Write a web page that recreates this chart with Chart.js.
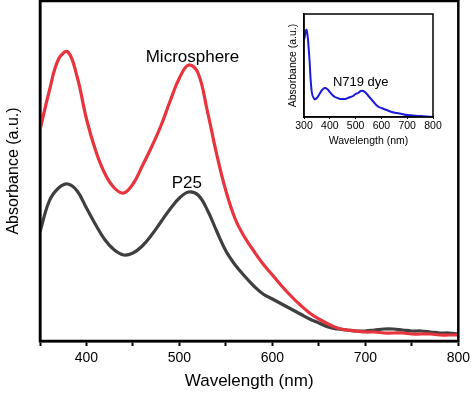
<!DOCTYPE html>
<html>
<head>
<meta charset="utf-8">
<script src="https://cdn.jsdelivr.net/npm/chart.js@4"></script>
<style>
  html, body { margin: 0; padding: 0; background: #fff; }
  #wrap { position: relative; width: 474px; height: 394px; }
  #chart { position: absolute; left: 0; top: 0; }
  #inset { position: absolute; left: 270px; top: 8px; }
</style>
</head>
<body>
<div id="wrap">
  <canvas id="chart" width="474" height="394"></canvas>
  <canvas id="inset" width="190" height="140"></canvas>
</div>
<script>
// main spectra, 10 nm steps (arbitrary absorbance units)
const wavelengths = [350, 360, 370, 380, 390, 400, 410, 420, 430, 440, 450, 460, 470, 480, 490, 500,
    510, 520, 530, 540, 550, 560, 570, 580, 590, 600, 610, 620, 630, 640, 650, 660, 670, 680, 690, 700,
    710, 720, 730, 740, 750, 760, 770, 780, 790, 800];
const microAbs = [211, 250, 282, 289, 264, 222, 190, 167, 153, 148, 157, 175, 194, 215, 240, 263,
    276, 268, 230, 187, 150, 122, 104, 90, 77, 66, 55, 45, 36, 28, 22, 17, 13, 11, 10, 9,
    9, 8, 8, 8, 7, 7, 7, 6, 6, 6];
const p25Abs = [109, 140, 153, 157, 150, 133, 116, 101, 91, 86, 88, 95, 106, 119, 132, 143,
    149, 146, 131, 110, 90, 76, 65, 55, 47, 42, 37, 32, 27, 22, 18, 14, 12, 11, 10, 10,
    11, 12, 12, 11, 10, 10, 9, 8, 8, 7];

// inset: N719 dye
const dyeWl = [300, 310, 320, 330, 340, 350, 360, 370, 380, 390, 400, 410, 420, 430, 440, 450, 460, 470,
    480, 490, 500, 510, 520, 530, 540, 550, 560, 570, 580, 590, 600, 620, 640, 660, 680, 700, 750, 800];
const dyeAbs = [77, 87, 62, 25, 18, 19, 23, 27, 29, 28, 25, 22, 20, 19, 18, 18, 18, 19,
    20, 21, 23, 24, 26, 26, 24, 21, 18, 15, 12, 10, 9, 7, 5, 4, 3, 2, 1, 0];

const xTicks = [400, 500, 600, 700, 800];
const insetTicks = [300, 400, 500, 600, 700, 800];

const font = 'Liberation Sans, Arial, sans-serif';

function toPoints(xs, ys) {
    return xs.map((x, i) => ({ x: x, y: ys[i] }));
}

// box around the plot area + curve labels
const framePlugin = {
    id: 'frame',
    afterDraw(chart, args, opts) {
        const a = chart.chartArea;
        const ctx = chart.ctx;
        ctx.save();
        ctx.strokeStyle = '#000';
        ctx.lineWidth = opts.width;
        ctx.strokeRect(a.left, a.top, a.right - a.left, a.bottom - a.top);
        ctx.fillStyle = '#000';
        ctx.textAlign = 'center';
        ctx.textBaseline = 'middle';
        (opts.labels || []).forEach(l => {
            ctx.font = l.size + 'px ' + font;
            ctx.fillText(l.text, chart.scales.x.getPixelForValue(l.x), chart.scales.y.getPixelForValue(l.y));
        });
        ctx.restore();
    }
};

new Chart(document.getElementById('chart').getContext('2d'), {
    type: 'line',
    data: {
        datasets: [{
            label: 'Microsphere',
            data: toPoints(wavelengths, microAbs),
            borderColor: '#e8343c',
            borderWidth: 3.2,
            pointRadius: 0,
            tension: 0.4
        }, {
            label: 'P25',
            data: toPoints(wavelengths, p25Abs),
            borderColor: '#3f3f3f',
            borderWidth: 3.2,
            pointRadius: 0,
            tension: 0.4
        }]
    },
    options: {
        responsive: false,
        animation: false,
        devicePixelRatio: 1,
        layout: { padding: { top: 1, right: 12, left: 0, bottom: 0 } },
        plugins: {
            legend: { display: false },
            tooltip: { enabled: false },
            frame: {
                width: 2.5,
                labels: [
                    { text: 'Microsphere', x: 514, y: 284, size: 17 },
                    { text: 'P25', x: 508, y: 158, size: 17 }
                ]
            }
        },
        scales: {
            x: {
                type: 'linear',
                min: 350,
                max: 800,
                afterFit: s => { s.height = 53; },
                afterBuildTicks: s => {
                    const t = [];
                    for (let v = 350; v <= 800; v += 50) t.push({ value: v });
                    s.ticks = t;
                },
                ticks: {
                    color: '#000',
                    font: { family: font, size: 14 },
                    maxRotation: 0,
                    autoSkip: false,
                    padding: 4,
                    callback: v => xTicks.includes(v) ? String(v) : ''
                },
                grid: {
                    drawOnChartArea: false,
                    tickLength: 5,
                    tickWidth: 2,
                    tickColor: '#000'
                },
                border: { color: '#000', width: 2.5 },
                title: {
                    display: true,
                    text: 'Wavelength (nm)',
                    color: '#000',
                    font: { family: font, size: 17 },
                    padding: { top: 2, bottom: 2 }
                }
            },
            y: {
                min: 0,
                max: 340,
                afterFit: s => { s.width = 40; },
                ticks: { display: false },
                grid: { display: false },
                border: { color: '#000', width: 2.5 },
                title: {
                    display: true,
                    text: 'Absorbance (a.u.)',
                    color: '#000',
                    font: { family: font, size: 16 },
                    padding: { top: 4, bottom: 4 }
                }
            }
        }
    },
    plugins: [framePlugin]
});

new Chart(document.getElementById('inset').getContext('2d'), {
    type: 'line',
    data: {
        datasets: [{
            label: 'N719 dye',
            data: toPoints(dyeWl, dyeAbs),
            borderColor: '#1c1cd6',
            borderWidth: 2,
            pointRadius: 0,
            tension: 0.4
        }]
    },
    options: {
        responsive: false,
        animation: false,
        devicePixelRatio: 1,
        layout: { padding: { top: 6, right: 27, left: 0, bottom: 0 } },
        plugins: {
            legend: { display: false },
            tooltip: { enabled: false },
            frame: {
                width: 1.5,
                labels: [{ text: 'N719 dye', x: 520, y: 35, size: 13 }]
            }
        },
        scales: {
            x: {
                type: 'linear',
                min: 300,
                max: 800,
                afterFit: s => { s.height = 31; },
                afterBuildTicks: s => { s.ticks = insetTicks.map(v => ({ value: v })); },
                ticks: {
                    color: '#000',
                    font: { family: font, size: 10.5 },
                    maxRotation: 0,
                    autoSkip: false,
                    padding: 1
                },
                grid: { drawOnChartArea: false, tickLength: 2, tickColor: '#000' },
                border: { color: '#000', width: 1.5 },
                title: {
                    display: true,
                    text: 'Wavelength (nm)',
                    color: '#000',
                    font: { family: font, size: 10.5 },
                    padding: { top: 2, bottom: 1 }
                }
            },
            y: {
                min: 0,
                max: 103,
                afterFit: s => { s.width = 34; },
                ticks: { display: false },
                grid: { display: false },
                border: { color: '#000', width: 1.5 },
                title: {
                    display: true,
                    text: 'Absorbance (a.u.)',
                    color: '#000',
                    font: { family: font, size: 10.5 },
                    padding: { top: 17, bottom: 2 }
                }
            }
        }
    },
    plugins: [framePlugin]
});
</script>
</body>
</html>
